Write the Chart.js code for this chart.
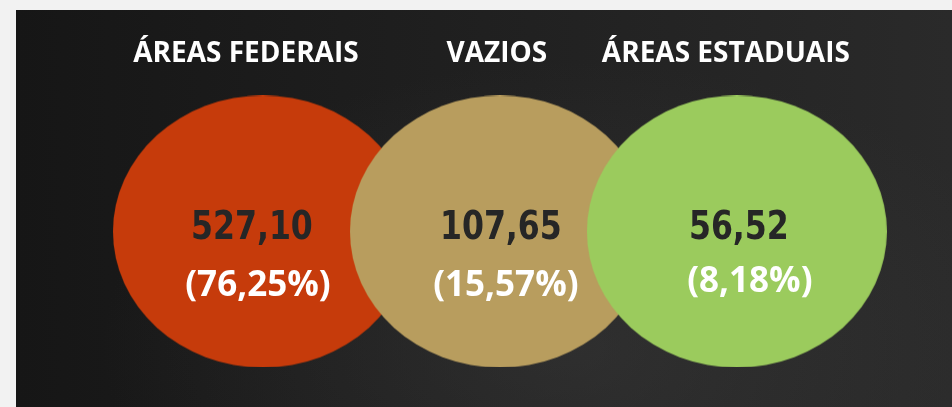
<!DOCTYPE html>
<html>
<head>
<meta charset="utf-8">
<script src="https://cdn.jsdelivr.net/npm/chart.js@4.4.1/dist/chart.umd.min.js"></script>
<style>
  html, body { margin: 0; padding: 0; background: #f2f2f2; }
  #wrap {
    position: absolute; left: 16px; top: 10px; width: 936px; height: 397px;
    background:
      radial-gradient(ellipse at 60% 85%, rgba(70,70,70,0.35), rgba(0,0,0,0) 60%),
      linear-gradient(90deg, #161616 0%, #1e1e1e 40%, #2a2a2a 100%);
  }
</style>
</head>
<body>
<div id="wrap"><canvas id="areas" width="936" height="397"></canvas></div>
<script>
// data
const categories = ['ÁREAS FEDERAIS', 'VAZIOS', 'ÁREAS ESTADUAIS'];
const areaValues = [527.10, 107.65, 56.52];
const areaShares = [76.25, 15.57, 8.18];
const fills = ['#C63B0B', '#B89D5E', '#9BCB5D'];

// small nudges so text sits where it does in the original
const titleShift = [-17, -3, -11];
const valueShift = [-11, 1, 2];
const shareShift = [[-5, 55], [6, 55], [13, 51]];

function ptBR(v) {
  return v.toFixed(2).replace('.', ',');
}

// ellipse shaped point, the library centers it on the point
function ellipseStyle(color) {
  const c = document.createElement('canvas');
  c.width = 300;
  c.height = 272;
  const g = c.getContext('2d');
  g.fillStyle = color;
  g.beginPath();
  g.ellipse(150, 136, 150, 136, 0, 0, Math.PI * 2);
  g.fill();
  return c;
}

const labelPlugin = {
  id: 'areaLabels',
  afterDatasetsDraw(chart) {
    const ctx = chart.ctx;
    const meta = chart.getDatasetMeta(0);
    ctx.save();
    ctx.textAlign = 'center';
    ctx.textBaseline = 'middle';
    meta.data.forEach((pt, i) => {
      ctx.fillStyle = '#ffffff';
      ctx.font = 'bold 28px "Open Sans"';
      ctx.fillText(categories[i], pt.x + titleShift[i], pt.y - 177);

      // the number font in the original is a narrow DIN-like face
      ctx.save();
      ctx.translate(pt.x + valueShift[i], pt.y - 3);
      ctx.scale(0.9, 1);
      ctx.fillStyle = '#262626';
      ctx.font = 'bold 39px "DejaVu Sans Condensed"';
      ctx.fillText(ptBR(areaValues[i]), 0, 0);
      ctx.restore();

      ctx.fillStyle = '#ffffff';
      ctx.font = 'bold 35px "Open Sans"';
      ctx.fillText('(' + ptBR(areaShares[i]) + '%)', pt.x + shareShift[i][0], pt.y + shareShift[i][1]);
    });
    ctx.restore();
  }
};

const ctx = document.getElementById('areas').getContext('2d');
new Chart(ctx, {
  type: 'scatter',
  data: {
    datasets: [{
      data: categories.map((c, i) => ({ x: i, y: 0 })),
      pointStyle: fills.map(ellipseStyle),
      backgroundColor: fills,
      borderWidth: 0
    }]
  },
  options: {
    responsive: false,
    animation: false,
    devicePixelRatio: 1,
    events: [],
    layout: { padding: 0 },
    plugins: { legend: { display: false }, tooltip: { enabled: false } },
    scales: {
      x: { type: 'linear', display: false, min: -1.025, max: 2.891 },
      y: { type: 'linear', display: false, min: -1, max: 1.268 }
    }
  },
  plugins: [labelPlugin]
});
</script>
</body>
</html>
